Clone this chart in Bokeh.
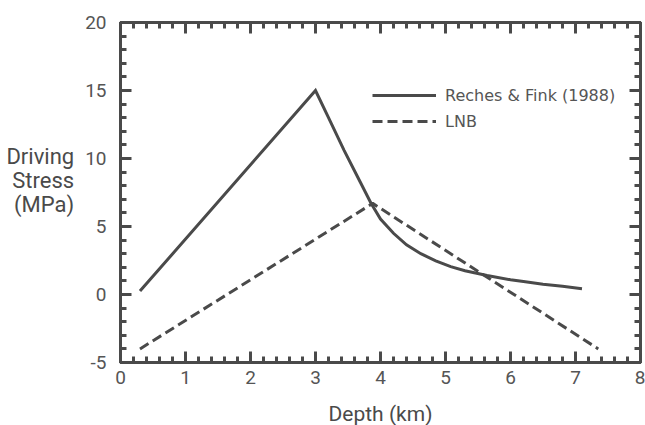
from bokeh.plotting import figure
from bokeh.models import (Range1d, LinearAxis, SingleIntervalTicker, Legend, LegendItem, Label)
from bokeh.embed import file_html
from bokeh.resources import INLINE

# Data
reches_x = [0.3, 3.0, 3.2, 3.44, 3.69, 3.85, 4.0, 4.2, 4.4, 4.62, 4.85, 5.08,
            5.3, 5.64, 6.0, 6.2, 6.5, 6.8, 7.1]
reches_y = [0.25, 15.0, 13.0, 10.6, 8.25, 6.75, 5.55, 4.5, 3.65, 3.0, 2.48, 2.05,
            1.75, 1.4, 1.08, 0.95, 0.75, 0.6, 0.42]
lnb_x = [0.3, 3.88, 7.35]
lnb_y = [-4.0, 6.7, -4.0]

x_label = "Depth (km)"
y_label = "Driving\nStress\n(MPa)"
series_names = ["Reches & Fink (1988)", "LNB"]

DARK = "#4a4a4a"
TEXT = "#555555"
FONT = "Roboto"

p = figure(frame_width=520, frame_height=340, output_backend="svg", toolbar_location=None,
           x_range=Range1d(0, 8), y_range=Range1d(-5, 20),
           min_border_left=120, min_border_right=5, min_border_top=22, min_border_bottom=40,
           x_axis_location=None, y_axis_location=None)
p.grid.visible = False
p.outline_line_color = DARK
p.outline_line_width = 3
p.background_fill_color = "white"
p.border_fill_color = "white"


def make_axis(ticker, show_labels, standoff):
    ax = LinearAxis(ticker=ticker)
    ax.axis_line_color = DARK
    ax.axis_line_width = 3
    ax.major_tick_line_color = DARK
    ax.major_tick_line_width = 3
    ax.minor_tick_line_color = DARK
    ax.minor_tick_line_width = 3
    ax.major_tick_in = 11
    ax.major_tick_out = 0
    ax.minor_tick_in = 6
    ax.minor_tick_out = 0
    ax.major_label_standoff = standoff
    ax.major_label_text_font = FONT
    ax.major_label_text_color = TEXT
    if show_labels:
        ax.major_label_text_font_size = "19px"
    else:
        ax.major_label_text_font_size = "0px"
        ax.major_label_standoff = 0
    return ax


xt = lambda: SingleIntervalTicker(interval=1, num_minor_ticks=5)
yt = lambda: SingleIntervalTicker(interval=5, num_minor_ticks=5)

bottom = make_axis(xt(), True, 8)
bottom.axis_label = x_label
bottom.axis_label_text_font = FONT
bottom.axis_label_text_font_size = "21px"
bottom.axis_label_text_font_style = "normal"
bottom.axis_label_text_color = DARK
bottom.axis_label_standoff = 15
p.add_layout(bottom, "below")
p.add_layout(make_axis(xt(), False, 0), "above")

left = make_axis(yt(), True, 14)
left.major_label_overrides = {-5: "-5"}
props = LinearAxis.properties()
if "axis_label_orientation" in props:
    left.axis_label = y_label + "\n "
    left.axis_label_orientation = "horizontal"
    left.axis_label_text_font = FONT
    left.axis_label_text_font_size = "22px"
    left.axis_label_text_font_style = "normal"
    left.axis_label_text_color = DARK
    left.axis_label_text_align = "center"
    left.axis_label_text_line_height = 0.95
    left.axis_label_standoff = 8
else:
    for i, txt in enumerate(y_label.split("\n")):
        p.add_layout(Label(x=-80, y=198 - 24 * i, x_units="screen", y_units="screen", text=txt,
                           text_align="center", text_baseline="alphabetic",
                           text_font=FONT, text_font_size="22px", text_color=DARK))
p.add_layout(left, "left")
p.add_layout(make_axis(yt(), False, 0), "right")

r1 = p.line(reches_x, reches_y, line_color=DARK, line_width=3, line_join="miter")
r2 = p.line(lnb_x, lnb_y, line_color=DARK, line_width=3, line_dash="10 5")

legend = Legend(items=[LegendItem(label=series_names[0], renderers=[r1]),
                       LegendItem(label=series_names[1], renderers=[r2])],
                location=(252, 231), border_line_color=None, background_fill_alpha=0,
                padding=0, margin=0, glyph_width=64, glyph_height=20, label_height=20,
                spacing=6, label_standoff=9, label_text_font="DejaVu Sans",
                label_text_font_size="16px", label_text_color=TEXT)
p.add_layout(legend)

open("out.html", "w").write(file_html(p, INLINE))
